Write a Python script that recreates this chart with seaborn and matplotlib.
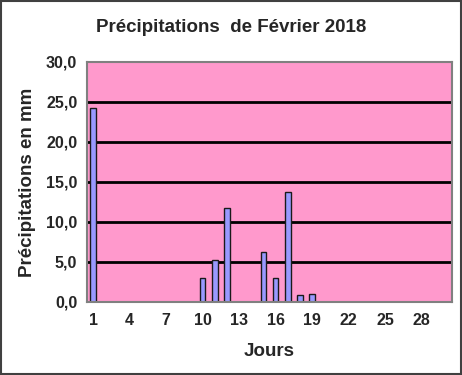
import matplotlib
matplotlib.use("Agg")
import matplotlib.pyplot as plt
import matplotlib.ticker as mticker
import pandas as pd
import seaborn as sns

# Daily rainfall, February 2018 (mm)
days = list(range(1, 31))
rain = [24.2, 0, 0, 0, 0, 0, 0, 0, 0, 3.0,
        5.2, 11.8, 0, 0, 6.3, 3.0, 13.8, 0.9, 1.0, 0,
        0, 0, 0, 0, 0, 0, 0, 0, 0, 0]
tick_days = [1, 4, 7, 10, 13, 16, 19, 22, 25, 28]

df = pd.DataFrame({"jour": days, "pluie": rain})

sns.set_style("white")
plt.rcParams["font.family"] = ["Liberation Sans", "DejaVu Sans"]
plt.rcParams["font.weight"] = "bold"

fig = plt.figure(figsize=(4.62, 3.75), dpi=100)
ax = fig.add_axes([87 / 462, 1 - 302 / 375, 365 / 462, 240 / 375])
ax.set_facecolor("#FF99CC")

sns.barplot(data=df, x="jour", y="pluie", order=days, color="#9999FF",
            saturation=1, width=0.47, edgecolor="#1a1a1a", linewidth=1.0, ax=ax)

ax.set_ylim(0, 30)
ax.set_xlim(-0.5, len(days) - 0.5)
ax.set_yticks([0, 5, 10, 15, 20, 25, 30])
ax.yaxis.set_major_formatter(mticker.FuncFormatter(lambda v, p: f"{v:.1f}".replace(".", ",")))
for y in [5, 10, 15, 20, 25]:
    ax.axhline(y, color="black", lw=2, zorder=0.5)

pos = [days.index(d) for d in tick_days]
ax.set_xticks(pos)
ax.set_xticklabels([str(d) for d in tick_days])
ax.set_xticks([i - 0.5 for i in range(len(days) + 1)], minor=True)
ax.tick_params(axis="x", which="major", length=0, pad=8, labelsize=11.5)
ax.tick_params(axis="x", which="minor", length=4, width=1, color="#808080", direction="out")
ax.tick_params(axis="y", length=4, width=1, color="#808080", direction="out", pad=3, labelsize=11.5)
for lab in ax.get_xticklabels() + ax.get_yticklabels():
    lab.set_fontweight("bold")

for s in ax.spines.values():
    s.set_color("#808080")
    s.set_linewidth(1.5)
    s.set_visible(True)

ax.set_xlabel("Jours", fontsize=13.5, fontweight="bold", va="center")
ax.xaxis.set_label_coords(0.5, (302 - 351) / 240)
ax.set_ylabel("Précipitations en mm", fontsize=13.5, fontweight="bold", va="center")
ax.yaxis.set_label_coords((28 - 87) / 365, 0.5)
fig.text(0.5, 1 - 28 / 375, "Précipitations  de Février 2018", ha="center", va="center",
         fontsize=13.5, fontweight="bold")

fig.patches.append(plt.Rectangle((0.002, 0.003), 0.995, 0.994, transform=fig.transFigure,
                                 fill=False, edgecolor="#404040", linewidth=1.5))

fig.savefig("out.png", dpi=100)
